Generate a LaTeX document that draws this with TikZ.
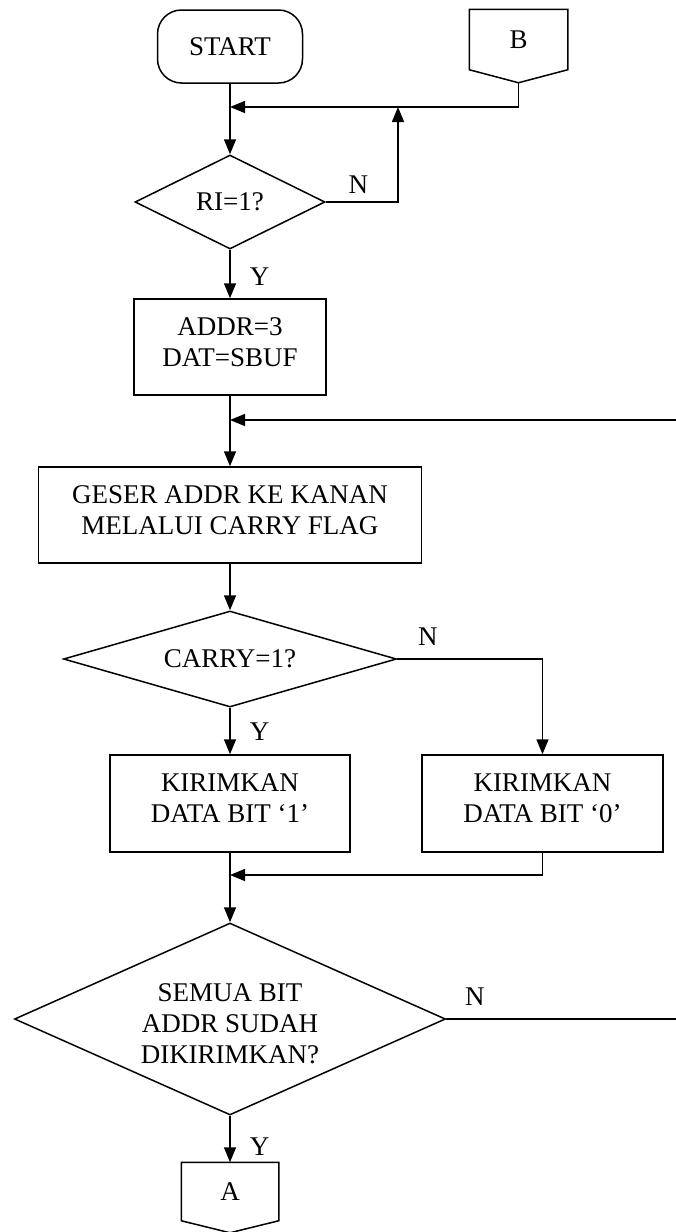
\documentclass[tikz,border=0pt]{standalone}
\usepackage{fontspec}
\setmainfont{Liberation Serif}
\usetikzlibrary{shapes.geometric,arrows.meta,positioning,calc}

\begin{document}
\begin{tikzpicture}[x=1pt, y=-1pt, line width=1.5pt,
    >={Triangle[length=15pt, width=12pt]},
    font=\fontsize{27}{31}\selectfont,
    box/.style={draw, rectangle, align=center, inner sep=0pt},
    twoline/.style={box, text depth=10pt},
    decision/.style={draw, diamond, align=center, inner sep=0pt},
    offpage/.style={rectangle, inner sep=0pt},
    lbl/.style={inner sep=0pt}]
    \useasboundingbox (0,0) rectangle (676,1232);

    % Start and entry connector B
    \node [box, rounded corners=24pt, minimum width=145pt, minimum height=73pt] (start) at (230,46.5) {START};
    \node [offpage, minimum width=97pt, minimum height=59pt] (B) at (518.5,39.5) {B};
    \draw (B.south west) -- (B.north west) -- (B.north east) -- (B.south east) -- ($(B.south)+(0,13)$) coordinate (Bp) -- cycle;

    % Blocks
    \node [decision, aspect=2, minimum width=190pt, minimum height=94pt] (RI) at (230,202) {RI=1?};
    \node [twoline, minimum width=192pt, minimum height=96pt] (addr) at (230,347) {ADDR=3\\DAT=SBUF};
    \node [twoline, minimum width=383pt, minimum height=96pt] (geser) at (230,515) {GESER ADDR KE KANAN\\MELALUI CARRY FLAG};
    \node [decision, aspect=3.47, minimum width=333pt, minimum height=96pt] (carry) at (230,659) {CARRY=1?};
    \node [twoline, minimum width=240pt, minimum height=97pt] (kirim1) at (230,803.5) {KIRIMKAN\\DATA BIT ‘1’};
    \node [twoline, minimum width=241pt, minimum height=97pt] (kirim0) at (542.5,803.5) {KIRIMKAN\\DATA BIT ‘0’};
    \node [decision, aspect=2.245, text height=90pt, minimum width=431pt, minimum height=192pt] (semua) at (230,1019) {SEMUA BIT\\ADDR SUDAH\\DIKIRIMKAN?};

    % Exit connector A
    \node [offpage, minimum width=96pt, minimum height=57pt] (A) at (230,1191.5) {A};
    \draw (A.south west) -- (A.north west) -- (A.north east) -- (A.south east) -- ($(A.south)+(0,12)$) -- cycle;

    % Junction points
    \coordinate (j1) at (230,107);
    \coordinate (n1) at (398,107);
    \coordinate (j2) at (230,420);
    \coordinate (r1) at (676,420);
    \coordinate (j3) at (230,875);
    \coordinate (r2) at (676,1019);

    % Connections
    \draw [->] (start) -- (RI);
    \draw [->] (Bp) |- (j1);
    \draw [->] (RI.east) -| (n1);
    \node [lbl, above right=8pt and 22pt of RI.east] (nRI) {N};
    \draw [->] (RI) -- node [lbl, pos=0.56, right=19pt] (yRI) {Y} (addr);
    \draw [->] (addr) -- (geser);
    \draw [->] (r1) -- (j2);
    \draw [->] (geser) -- (carry);
    \draw [->] (carry) -- node [lbl, pos=0.52, right=19pt] (yCarry) {Y} (kirim1);
    \draw [->] (carry.east) -| (kirim0);
    \node [lbl, above right=13pt and 20pt of carry.east] (nCarry) {N};
    \draw [->] (kirim0) |- (j3);
    \draw [->] (kirim1) -- (semua);
    \draw (semua.east) -- (r2);
    \node [lbl, above right=13pt and 18pt of semua.east] (nSemua) {N};
    \draw [->] (semua) -- node [lbl, pos=0.66, right=19pt] (ySemua) {Y} (A);
\end{tikzpicture}
\end{document}
